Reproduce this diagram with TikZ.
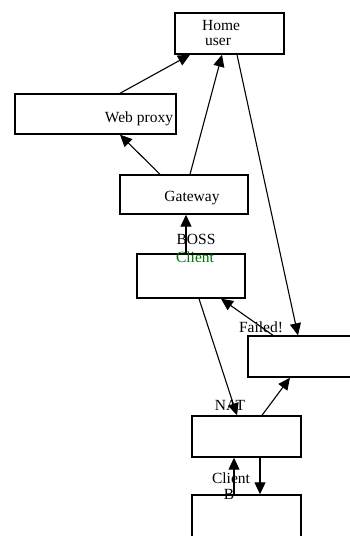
\documentclass[tikz,border=0pt]{standalone}
\usepackage{fontspec}
\setmainfont{Liberation Serif}
\usetikzlibrary{arrows.meta}
\begin{document}
\begin{tikzpicture}[x=1pt,y=-1pt,
  box/.style={draw,line width=1.4pt,inner sep=0pt,minimum width=#1,anchor=center},
  box/.default=108pt,
  lbl/.style={inner sep=0pt,font=\fontsize{15.5}{17}\selectfont,anchor=base},
  con/.style={line width=1.1pt,-{Triangle[width=11pt,length=12pt]}}]
\useasboundingbox (0,0) rectangle (350,536);
\fill[white] (0,0) rectangle (350,536);
\node[box=109pt,minimum height=41pt] (home) at (229.5,33.5) {};
\node[box=161pt,minimum height=40pt] (wp) at (95.5,114) {};
\node[box=128pt,minimum height=39pt] (gw) at (184,194.5) {};
\node[box=108pt,minimum height=44pt] (boss) at (191,276) {};
\node[box=108pt,minimum height=41pt] (fail) at (302,356.5) {};
\node[box=109pt,minimum height=41pt] (nat) at (246.5,436.5) {};
\node[box=109pt,minimum height=43pt] (cb) at (246.5,516.5) {};
\node[lbl] (thome) at (221,30) {Home};
\node[lbl] (tuser) at (218,45) {user};
\node[lbl] (twp) at (139,122) {Web proxy};
\node[lbl] (tgw) at (192,201) {Gateway};
\node[lbl] (tboss) at (196,244) {BOSS};
\node[lbl,text=green!45!black] (tbc) at (195,262) {Client};
\node[lbl] (tfail) at (261,332) {Failed!};
\node[lbl] (tnat) at (230,410) {NAT};
\node[lbl] (tcb) at (231,483) {Client};
\node[lbl] (tcb2) at (229,499) {B};
\draw[con] ([xshift=24.5pt]wp.north) -- ([xshift=-39.5pt]home.south);
\draw[con] ([xshift=-24pt]gw.north) -- ([xshift=24.5pt]wp.south);
\draw[con] ([xshift=6pt]gw.north) -- ([xshift=-7.5pt]home.south);
\draw[con] ([xshift=7.5pt]home.south) -- ([xshift=-4pt]fail.north);
\draw[con] ([xshift=8pt]boss.south) -- ([xshift=-9.5pt]nat.north);
\draw[con] ([xshift=-29pt]fail.north) -- ([xshift=30pt]boss.south);
\draw[con] ([xshift=15.5pt]nat.north) -- ([xshift=-12pt]fail.south);
\draw[con] ([xshift=-5pt]boss.north) -- ([xshift=2pt]gw.south);
\draw[con] ([xshift=-12.5pt]cb.north) -- ([xshift=-12.5pt]nat.south);
\draw[con] ([xshift=13.5pt]nat.south) -- ([xshift=13.5pt]cb.north);
\end{tikzpicture}
\end{document}
